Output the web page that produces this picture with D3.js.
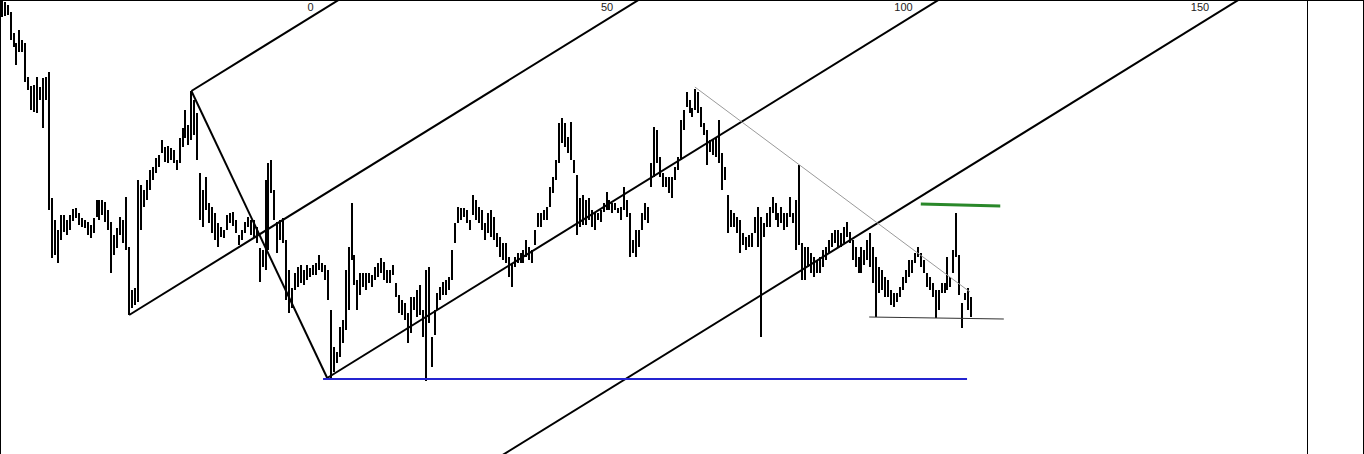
<!DOCTYPE html>
<html><head><meta charset="utf-8">
<script src="https://cdn.jsdelivr.net/npm/d3@7"></script>
<style>html,body{margin:0;padding:0;background:#fff;overflow:hidden}</style>
</head><body><svg id="c" width="1364" height="454"></svg>
<script>
// ---- data ----
const barStart = -52;      // axis unit of the first bar
const barStep = 0.5;       // axis units between bars
const highs = [
453,452,449,442,421,411,424,414,411,377,
368,369,377,367,376,377,382,256,234,224,
239,239,234,239,245,246,241,236,234,232,
229,236,254,254,254,252,244,232,219,226,
237,234,257,207,164,166,274,269,264,274,
284,287,296,299,314,307,308,306,304,294,
316,326,344,329,363,354,341,281,264,277,
251,247,241,231,227,224,239,241,242,234,
219,224,232,237,234,234,227,206,204,274,
291,294,264,232,234,236,214,184,166,181,
187,189,184,189,186,189,191,199,191,189,
184,144,107,102,127,134,184,207,251,199,
174,181,181,181,181,179,187,191,196,192,
184,184,189,171,159,154,151,141,157,157,
164,169,144,184,187,117,144,161,167,172,
174,177,204,231,247,246,246,244,234,259,
254,247,244,231,241,244,237,221,217,211,
211,197,191,197,201,201,204,214,207,204,
224,241,241,244,247,267,277,294,331,336,
331,317,332,294,279,256,259,254,256,244,
242,241,244,251,262,254,251,251,246,247,
267,254,241,214,224,224,241,251,247,291,
327,324,297,281,277,277,277,287,297,334,
344,362,354,346,365,362,347,331,324,314,
314,317,334,301,287,259,244,241,237,234,
221,217,219,221,237,247,237,231,241,247,
257,251,241,247,241,241,257,241,254,289,
211,207,207,201,197,194,197,204,207,214,
221,224,224,221,227,232,222,214,207,197,
207,204,214,221,207,197,187,184,177,174,
164,161,161,167,177,184,194,194,201,207,
201,194,181,177,171,164,164,171,171,197,
177,204,241,199,151,161,166,157
];
const lows = [
437,438,439,414,407,389,402,402,372,364,
344,342,341,354,326,354,244,196,199,191,
214,222,219,224,233,236,229,227,226,219,
216,221,237,234,239,232,224,181,199,206,
219,211,204,139,146,149,152,224,247,254,
264,274,281,287,301,292,291,294,291,284,
291,307,316,309,314,319,294,234,227,244,
231,221,214,207,217,216,224,231,228,221,
209,214,221,227,219,217,211,172,187,184,
204,261,234,201,214,211,154,141,146,164,
167,171,169,174,177,179,179,184,182,174,
154,76,82,91,97,111,124,144,194,169,
144,159,167,164,171,167,174,177,181,174,
171,171,179,157,141,139,134,111,121,144,
137,139,117,73,131,87,119,144,154,159,
159,164,174,211,231,234,237,231,224,239,
234,231,224,214,221,217,214,207,197,194,
191,177,167,187,191,191,191,197,194,191,
209,227,227,234,234,247,261,274,291,311,
307,301,294,281,219,227,229,229,234,227,
224,234,232,242,244,244,241,244,241,234,
244,237,197,201,197,207,224,234,231,267,
277,291,277,267,267,261,256,274,284,294,
324,347,341,337,344,341,327,319,289,302,
299,297,291,264,274,221,227,227,221,201,
209,204,207,207,221,207,117,217,227,227,
241,234,227,231,224,227,237,231,204,209,
174,174,187,181,177,181,181,187,194,201,
207,211,207,207,211,217,211,194,187,181,
181,189,194,187,171,137,161,164,157,157,
149,147,152,157,164,171,177,181,191,197,
187,181,167,164,157,136,144,161,161,164,
167,181,197,159,126,154,144,137
];
const tickValues = [0, 50, 100, 150];
// pitchfork pivots (axis unit, price)
const pivotA = {u: -30.5, p: 139};
const pivotB = {u: -20.0, p: 363};
const pivotC = {u: 2.9, p: 76};
// drawn trend lines (axis unit, price)
const grayLine  = [{u: 64.9, p: 367}, {u: 111.3, p: 162}];
const floorLine = [{u: 94.3, p: 137}, {u: 117.0, p: 135}];
const greenLine = [{u: 103.0, p: 250}, {u: 116.4, p: 248}];
const blueLine  = [{u: 2.2, p: 75}, {u: 110.8, p: 75}];

// ---- drawing ----
const W = 1364, H = 454, plotRight = 1307;
const svg = d3.select("#c");
const x = d3.scaleLinear().domain([0, 150]).range([310, 1199.5]);
const y = d3.scaleLinear().domain([0, 454]).range([454, 0]);

svg.append("defs").append("clipPath").attr("id", "clip")
  .append("rect").attr("x", 0).attr("y", 0).attr("width", plotRight).attr("height", H);
const g = svg.append("g").attr("clip-path", "url(#clip)");

const bars = highs.map((h, i) => ({u: barStart + i * barStep, h, l: lows[i]}));
g.selectAll("rect.bar").data(bars).join("rect").attr("class", "bar")
  .attr("x", d => Math.round(x(d.u)) - 1)
  .attr("width", 2)
  .attr("y", d => y(d.h))
  .attr("height", d => Math.max(1, y(d.l) - y(d.h)))
  .attr("fill", "#000");

// pitchfork
const P = d => [x(d.u), y(d.p)];
const A = P(pivotA), B = P(pivotB), C = P(pivotC);
const M = [(B[0] + C[0]) / 2, (B[1] + C[1]) / 2];
let dx = M[0] - A[0], dy = M[1] - A[1];
const len = Math.hypot(dx, dy); dx /= len; dy /= len;
const Wp = [C[0] + (C[0] - M[0]), C[1] + (C[1] - M[1])];
const far = 3000;
const ray = (p, back) => [[p[0] - back * dx, p[1] - back * dy], [p[0] + far * dx, p[1] + far * dy]];
const fork = [
  [B, C],
  ray(A, 0), ray(B, 0), ray(C, 0), ray(Wp, far)
];
const line = d3.line();
g.selectAll("path.fork").data(fork).join("path").attr("class", "fork")
  .attr("d", d => line(d)).attr("fill", "none")
  .attr("stroke", "#000").attr("stroke-width", 2);

const seg = pts => line(pts.map(P));
g.append("path").attr("d", seg(grayLine)).attr("stroke", "#9a9a9a").attr("stroke-width", 1).attr("fill", "none");
g.append("path").attr("d", seg(floorLine)).attr("stroke", "#333").attr("stroke-width", 1.2).attr("fill", "none");
g.append("path").attr("d", seg(blueLine)).attr("stroke", "#2424d0").attr("stroke-width", 2).attr("fill", "none");
g.append("path").attr("d", seg(greenLine)).attr("stroke", "#2a882a").attr("stroke-width", 3).attr("fill", "none");

// top axis labels
const ax = svg.append("g").attr("transform", "translate(0,11)")
  .call(d3.axisTop(x).tickValues(tickValues).tickSize(0).tickPadding(0));
ax.select(".domain").remove();
ax.selectAll("text").attr("font-family", "Liberation Sans, Arial, sans-serif")
  .attr("font-size", 11).attr("fill", "#222").attr("dy", "0");

// frame
const fr = svg.append("g").attr("stroke", "#000").attr("stroke-width", 1);
fr.append("line").attr("x1", 0).attr("x2", W).attr("y1", 0.5).attr("y2", 0.5);
fr.append("line").attr("x1", 0.5).attr("x2", 0.5).attr("y1", 0).attr("y2", H);
fr.append("line").attr("x1", plotRight + 0.5).attr("x2", plotRight + 0.5).attr("y1", 0).attr("y2", H);
fr.append("line").attr("x1", W - 0.5).attr("x2", W - 0.5).attr("y1", 0).attr("y2", H);
</script></body></html>
